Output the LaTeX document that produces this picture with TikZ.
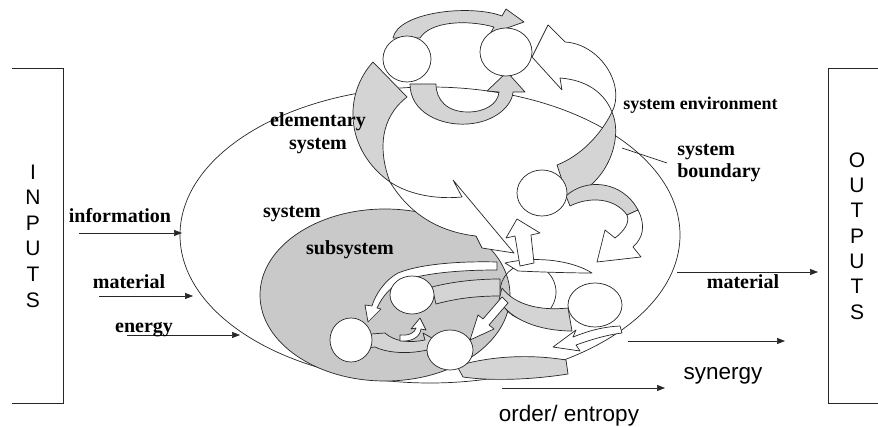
\documentclass[tikz,border=0pt]{standalone}
\usepackage{fontspec}
\setmainfont{Liberation Serif}
\setsansfont{Liberation Sans}
\usetikzlibrary{arrows.meta}
\definecolor{ribgray}{gray}{0.83}
\definecolor{subgray}{gray}{0.79}
\definecolor{ink}{gray}{0.15}
\begin{document}
\begin{tikzpicture}[x=1pt,y=-1pt,line width=0.7pt,draw=ink,
  lbl/.style={font=\bfseries\fontsize{20}{23}\selectfont,align=center,inner sep=0pt},
  sanslbl/.style={font=\sffamily\fontsize{22.5}{26}\selectfont,inner sep=0pt},
  letters/.style={font=\sffamily\fontsize{21}{25.6}\selectfont,align=center,inner sep=0pt},
  flow/.style={-{Triangle[length=8pt,width=6pt]}},
  ribbon/.style={draw=ink,fill=ribgray,line join=round},
  blank/.style={draw=ink,fill=white,line join=round}]
  \useasboundingbox (0,0) rectangle (878,427);
  \coordinate (sys) at (430,235);
  \coordinate (sub) at (385,295);
  \coordinate (hub) at (528,292);
  \coordinate (c1) at (407,59);
  \coordinate (c2) at (506,52);
  \coordinate (c3) at (542,193);
  \coordinate (c4) at (595,305);
  \coordinate (s1) at (412,295);
  \coordinate (s2) at (351,340);
  \coordinate (s3) at (450,350);
  % inputs / outputs
  \draw (12,68) -- (63,68) -- (63,403) -- (12,403);
  \draw (878,68) -- (828,68) -- (828,403) -- (878,403);
  \node (inputs) [letters] at (33,236) {I\\N\\P\\U\\T\\S};
  \node (outputs) [letters,font=\sffamily\fontsize{21}{25.3}\selectfont] at (857,236) {O\\U\\T\\P\\U\\T\\S};
  % system and subsystem
  \draw (sys) ellipse [x radius=250, y radius=148];
  \filldraw[fill=subgray] (sub) ellipse [x radius=125, y radius=86];
  % elementary system at the top
  \filldraw[ribbon] (393,38) .. controls (398,12) and (470,4) .. (502,16) -- (506,9) -- (524,22) -- (490,34) -- (494,27) .. controls (465,19) and (430,22) .. (420,38) -- cycle;
  \filldraw[ribbon] (410,84) .. controls (410,112) and (440,126) .. (468,124) .. controls (495,122) and (512,106) .. (513,92) -- (525,92) -- (507,72) -- (487,91) -- (499,92) .. controls (498,104) and (485,112) .. (468,112) .. controls (447,112) and (436,100) .. (436,84) -- cycle;
  \filldraw[ribbon] (373,62) .. controls (343,95) and (345,150) .. (390,182) .. controls (378,150) and (380,118) .. (407,97) -- cycle;
  \filldraw[blank] (390,182) .. controls (410,215) and (440,232) .. (476,236) -- (482,248) -- (514,253) -- (453,180) -- (462,197) .. controls (430,200) and (405,192) .. (390,182) -- cycle;
  \filldraw[ribbon] (612,112) .. controls (624,140) and (606,186) .. (568,198) -- (557,165) .. controls (580,156) and (600,136) .. (612,112) -- cycle;
  \filldraw[blank] (612,112) .. controls (626,85) and (600,44) .. (565,42) -- (548,25) -- (532,57) -- (562,90) -- (560,78) .. controls (586,80) and (604,92) .. (612,112) -- cycle;
  \filldraw[ribbon] (566,196) .. controls (585,178) and (622,180) .. (638,210) -- (627,215) .. controls (615,198) and (590,196) .. (570,206) -- cycle;
  \filldraw[blank] (638,210) .. controls (646,226) and (643,238) .. (633,247) -- (641,257) -- (597,262) -- (605,230) -- (615,238) .. controls (624,231) and (630,223) .. (627,215) -- cycle;
  % hub and lower loop
  \draw (hub) circle [radius=28];
  \filldraw[blank] (505,263) .. controls (540,255) and (575,262) .. (592,273) .. controls (570,273) and (540,272) .. (518,271) -- cycle;
  \filldraw[ribbon] (502,288) .. controls (515,305) and (540,311) .. (568,308) -- (572,331) .. controls (540,331) and (510,320) .. (499,300) -- cycle;
  \filldraw[ribbon] (432,287) .. controls (455,281) and (480,279) .. (500,279) -- (500,296) .. controls (478,296) and (458,298) .. (436,304) -- cycle;
  \filldraw[blank] (502,297) -- (483,319) -- (478,315) -- (470,340) -- (494,329) -- (489,325) -- (508,303) -- cycle;
  \filldraw[blank] (520,266) -- (515,236) -- (506,238) -- (517,219) -- (540,233) -- (531,235) -- (534,263) -- cycle;
  \filldraw[blank] (620,326) .. controls (600,327) and (586,332) .. (573,337) -- (576,330) -- (553,347) -- (580,351) -- (576,345) .. controls (590,340) and (606,335) .. (622,333) -- cycle;
  \filldraw[ribbon] (457,366) .. controls (490,356) and (530,354) .. (566,360) -- (568,374) .. controls (530,380) and (490,381) .. (463,377) -- cycle;
  % subsystem loop
  \filldraw[blank] (497,262) .. controls (460,261) and (420,264) .. (398,273) .. controls (385,280) and (375,295) .. (372,306) -- (365,305) -- (368,322) -- (381,309) -- (377,308) .. controls (383,295) and (392,286) .. (402,281) .. controls (425,273) and (460,270) .. (497,270) -- cycle;
  \filldraw[ribbon] (357,335) -- (385,333) .. controls (395,342) and (410,343) .. (425,340) -- (423,333) -- (444,345) -- (428,356) -- (427,350) .. controls (405,355) and (385,352) .. (375,347) -- (357,349) -- cycle;
  \filldraw[blank] (400,335) .. controls (410,336) and (415,332) .. (416,328) -- (411,329) -- (420,318) -- (426,330) -- (421,329) .. controls (420,337) and (412,342) .. (400,341) -- cycle;
  % elements
  \filldraw[blank] (c1) ellipse [x radius=24, y radius=23];
  \filldraw[blank] (c2) ellipse [x radius=26, y radius=24];
  \filldraw[blank] (c3) ellipse [x radius=25, y radius=23];
  \filldraw[blank] (c4) ellipse [x radius=27, y radius=22];
  \filldraw[blank] (s1) ellipse [x radius=22, y radius=19];
  \filldraw[blank] (s2) ellipse [x radius=21, y radius=22];
  \filldraw[blank] (s3) ellipse [x radius=23, y radius=20];
  % labels
  \coordinate (bndA) at (622,148);
  \coordinate (bndB) at (667,163);
  \draw (bndA) -- (bndB);
  \node (elem) [lbl,anchor=base] at (318,150) {elementary\\system};
  \node (system) [lbl,anchor=base] at (292,218) {system};
  \node (subsys) [lbl,anchor=base] at (350,255) {subsystem};
  \node (env) [lbl,anchor=base west,font=\bfseries\fontsize{18}{22}\selectfont] at (623,110) {system environment};
  \node (bound) [lbl,anchor=base west,align=left,font=\bfseries\fontsize{20}{22}\selectfont] at (677,178) {system\\boundary};
  % flows in
  \coordinate (infoA) at (79,233);
  \coordinate (infoB) at (182,233);
  \coordinate (matA) at (99,296);
  \coordinate (matB) at (193,296);
  \coordinate (enA) at (127,335);
  \coordinate (enB) at (240,335);
  \draw[flow] (infoA) -- (infoB);
  \draw[flow] (matA) -- (matB);
  \draw[flow] (enA) -- (enB);
  \node (info) [lbl,anchor=base] at (120,223) {information};
  \node (matin) [lbl,anchor=base] at (129,289) {material};
  \node (energy) [lbl,anchor=base] at (144,333) {energy};
  % flows out
  \coordinate (moA) at (677,272);
  \coordinate (moB) at (818,272);
  \coordinate (synA) at (628,341);
  \coordinate (synB) at (785,341);
  \coordinate (ordA) at (502,388);
  \coordinate (ordB) at (665,388);
  \draw[flow] (moA) -- (moB);
  \draw[flow] (synA) -- (synB);
  \draw[flow] (ordA) -- (ordB);
  \node (matout) [lbl,anchor=base] at (743,289) {material};
  \node (synergy) [sanslbl,anchor=base] at (723,380) {synergy};
  \node (order) [sanslbl,anchor=base] at (569,421) {order/ entropy};
\end{tikzpicture}
\end{document}
